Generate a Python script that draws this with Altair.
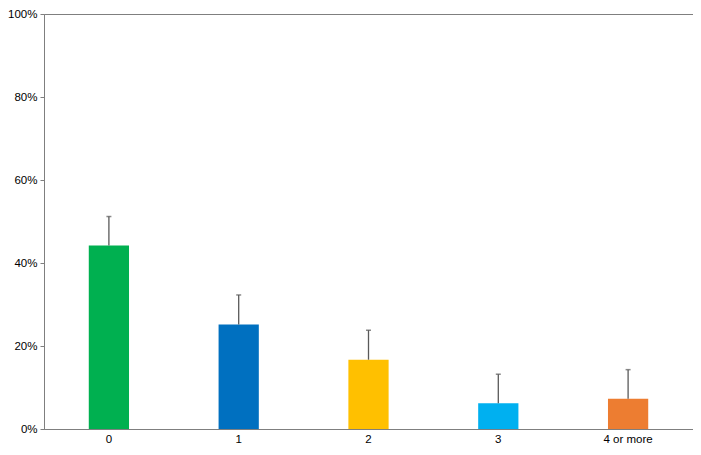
import altair as alt
import pandas as pd

categories = ["0", "1", "2", "3", "4 or more"]
values = [0.442, 0.252, 0.167, 0.062, 0.073]
errors = [0.070, 0.071, 0.071, 0.070, 0.070]
colors = ["#00B050", "#0070C0", "#FFC000", "#00B0F0", "#ED7D31"]

df = pd.DataFrame({
    "cat": categories,
    "val": values,
    "upper": [v + e for v, e in zip(values, errors)],
    "color": colors,
})

x = alt.X("cat:N", sort=categories, title=None,
          scale=alt.Scale(paddingInner=0.69, paddingOuter=0.345),
          axis=alt.Axis(labelAngle=0, ticks=False, domain=True, domainColor="#7f7f7f",
                        labelColor="black", labelFontSize=11.5, labelFont="Liberation Sans",
                        labelPadding=4))
y_scale = alt.Scale(domain=[0, 1])
y_axis = alt.Axis(format=".0%", values=[0, 0.2, 0.4, 0.6, 0.8, 1.0], grid=False,
                  tickSize=4, tickColor="#7f7f7f", domainColor="#7f7f7f",
                  labelColor="black", labelFontSize=11.5, labelFont="Liberation Sans",
                  labelPadding=3, title=None)

bars = alt.Chart(df).mark_bar().encode(
    x=x,
    y=alt.Y("val:Q", scale=y_scale, axis=y_axis),
    color=alt.Color("color:N", scale=None),
)

rules = alt.Chart(df).mark_rule(color="#595959", strokeWidth=1.3).encode(
    x=alt.X("cat:N", sort=categories),
    y="val:Q",
    y2="upper:Q",
)

caps = alt.Chart(df).mark_tick(color="#595959", orient="horizontal", size=5, thickness=1.5).encode(
    x=alt.X("cat:N", sort=categories),
    y="upper:Q",
)

chart = alt.layer(bars, rules, caps).properties(
    width=649, height=415,
    autosize=alt.AutoSizeParams(type="none"),
    padding={"left": 36, "top": 6, "right": 0, "bottom": 18},
).configure_view(stroke="#7f7f7f", strokeWidth=1)

chart.save("out.html", embed_options={"renderer": "svg", "actions": False})
